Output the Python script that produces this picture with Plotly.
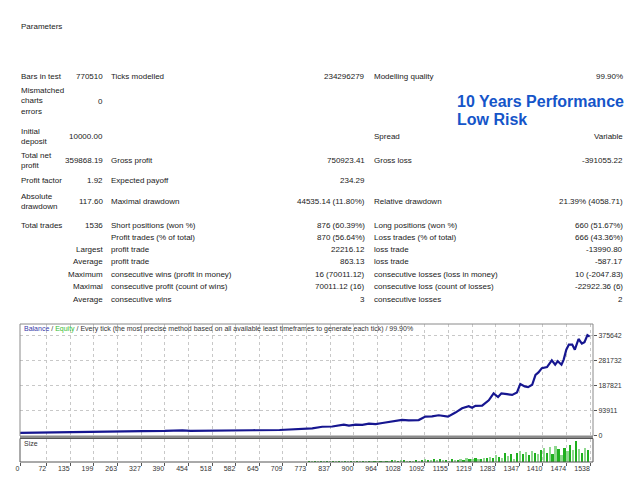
import plotly.graph_objects as go

FONT = "Liberation Sans, Arial, sans-serif"
TXT = "#1a1a1a"
# page puts the figure 8px in from the top-left corner, so the figure is a bit smaller than the window
W, H = 624, 464
OFF = 8

# ---- report table (label, value) rows ----
row_bars = ["Bars in test", "770510", "Ticks modelled", "234296279", "Modelling quality", "99.90%"]
row_deposit = ["Initial<br>deposit", "10000.00", "", "", "Spread", "Variable"]
row_net = ["Total net<br>profit", "359868.19", "Gross profit", "750923.41", "Gross loss", "-391055.22"]
row_pf = ["Profit factor", "1.92", "Expected payoff", "234.29", "", ""]
row_dd = ["Absolute<br>drawdown", "117.60", "Maximal drawdown", "44535.14 (11.80%)", "Relative drawdown", "21.39% (4058.71)"]
row_trades = ["Total trades", "1536", "Short positions (won %)", "876 (60.39%)", "Long positions (won %)", "660 (51.67%)"]
rows_sub = [
    ["", "Profit trades (% of total)", "870 (56.64%)", "Loss trades (% of total)", "666 (43.36%)"],
    ["Largest", "profit trade", "22216.12", "loss trade", "-13990.80"],
    ["Average", "profit trade", "863.13", "loss trade", "-587.17"],
    ["Maximum", "consecutive wins (profit in money)", "16 (70011.12)", "consecutive losses (loss in money)", "10 (-2047.83)"],
    ["Maximal", "consecutive profit (count of wins)", "70011.12 (16)", "consecutive loss (count of losses)", "-22922.36 (6)"],
    ["Average", "consecutive wins", "3", "consecutive losses", "2"],
]

# ---- balance curve (trade #, balance) ----
trade_no = [0, 40, 70, 110, 150, 199, 230, 263, 300, 330, 390, 438, 460, 520, 600, 627, 700, 725,
            760, 788, 815, 842, 873, 887, 905, 923, 941, 959, 977, 1004, 1030, 1048, 1075, 1093,
            1111, 1129, 1142, 1154, 1174, 1192, 1210, 1219, 1228, 1246, 1264, 1277, 1289, 1298,
            1313, 1327, 1340, 1349, 1361, 1370, 1381, 1390, 1398, 1407, 1421, 1434, 1443, 1450,
            1460, 1466, 1473, 1480, 1489, 1496, 1506, 1515, 1522, 1530, 1536]
balance = [10000, 11000, 12500, 12000, 13500, 14500, 14000, 16000, 16500, 17000, 17500, 19500,
           17500, 17500, 18000, 20000, 21000, 23000, 24000, 27000, 33000, 34000, 41000, 37000,
           41000, 40000, 45000, 43000, 47000, 53000, 59000, 57000, 58000, 71000, 72000, 76000,
           73000, 71000, 86000, 102000, 110000, 104000, 111000, 112000, 132000, 158000, 144000,
           158000, 155000, 152000, 161000, 193000, 184000, 181000, 190000, 227000, 236000, 252000,
           256000, 281000, 265000, 278000, 265000, 284000, 321000, 340000, 340000, 321000, 361000,
           344000, 349000, 375642, 369868]

# ---- lot size bars ----
size_trade = list(range(780, 1533, 8))
size_lots = [0.08, 0.10, 0.10, 0.08, 0.10, 0.12, 0.10, 0.10, 0.12, 0.10, 0.13,
             0.15, 0.18, 0.15, 0.20, 0.16, 0.18, 0.20, 0.15, 0.18, 0.20, 0.16, 0.15, 0.18, 0.20,
             0.16, 0.15, 0.18, 0.22, 0.25, 0.20,
             0.30, 0.25, 0.20, 0.15, 0.20, 0.25, 0.15, 0.30, 0.35, 0.25, 0.30, 0.35, 0.30, 0.40,
             0.25, 0.30, 0.20, 0.35, 0.25, 0.30, 0.40, 0.30, 0.45, 0.35, 0.40, 0.50, 0.40, 0.35,
             0.50, 0.45, 0.60, 0.50, 0.80, 0.60, 0.50, 1.00, 0.70, 0.90, 0.40,
             1.00, 1.20, 0.90, 1.10, 0.80, 1.20, 1.00, 0.90, 1.30,
             1.50, 1.00, 1.60, 0.90, 1.70, 1.40, 0.80, 1.50, 1.20,
             1.80, 1.30, 2.20, 1.40, 1.00, 1.50, 1.30]

x_ticks = [0, 72, 135, 199, 263, 327, 390, 454, 518, 582, 645, 709, 773, 837, 900, 964,
           1028, 1092, 1155, 1219, 1283, 1347, 1410, 1474, 1538]
y_ticks = [0, 93911, 187821, 281732, 375642]


def px(x, y):
    # screen pixel -> paper fraction
    return (x - OFF) / W, 1 - (y - OFF) / H


fig = go.Figure()
fig.add_trace(go.Scatter(x=trade_no, y=balance, mode="lines",
                         line=dict(color="#161690", width=2.2), xaxis="x", yaxis="y"))
bar_colors = ["#1fb01f" if i % 2 == 0 else "#8fd88f" for i in range(len(size_lots))]
fig.add_trace(go.Bar(x=size_trade, y=size_lots, width=6, marker=dict(color=bar_colors, line_width=0),
                     xaxis="x2", yaxis="y2"))

ann = []


def text(s, x, y, anchor="left", size=8, color=TXT, bold=False):
    xx, yy = px(x, y)
    ann.append(dict(text=f"<b>{s}</b>" if bold else s, x=xx, y=yy, xref="paper", yref="paper",
                    xanchor=anchor, yanchor="middle", showarrow=False,
                    font=dict(family=FONT, size=size, color=color), align="left"))


def six(row, y):
    text(row[0], 19, y)
    text(row[1], 104.5, y, "right")
    text(row[2], 109, y)
    text(row[3], 367.5, y, "right")
    text(row[4], 372, y)
    text(row[5], 625, y, "right")


text("Parameters", 19, 27)
six(row_bars, 76)
text("Mismatched<br>charts<br>errors", 19, 101)
text("0", 104.5, 101, "right")
six(row_deposit, 137)
six(row_net, 161)
six(row_pf, 181)
six(row_dd, 201)
six(row_trades, 225)
for r, y in zip(rows_sub, [237, 249.5, 261.5, 274, 286.5, 299]):
    text(r[0], 104.5, y, "right")
    text(r[1], 109, y)
    text(r[2], 367.5, y, "right")
    text(r[3], 372, y)
    text(r[4], 625, y, "right")

text("10 Years Performance", 455, 101, size=16, color="#1555c9", bold=True)
text("Low Risk", 455, 119, size=16, color="#1555c9", bold=True)

text("<span style='color:#3838a8'>Balance</span> / <span style='color:#33bb33'>Equity</span>"
     " / Every tick (the most precise method based on all available least timeframes to generate each tick) / 99.90%",
     22, 329, size=7, color="#333333")
text("Size", 22, 443, size=7, color="#333333")

shapes = []
x0, y0 = px(20, 324)
x1, y1 = px(593, 436)
shapes.append(dict(type="rect", xref="paper", yref="paper", x0=x0, y0=y1, x1=x1, y1=y0,
                   line=dict(color="#8a8a8a", width=1)))
sx0, sy0 = px(20, 436)
sx1, sy1 = px(593, 438.5)
shapes.append(dict(type="rect", xref="paper", yref="paper", x0=sx0, y0=sy1, x1=sx1, y1=sy0,
                   line=dict(width=0), fillcolor="#8c8c8c"))
bx0, by0 = px(20, 438.5)
bx1, by1 = px(593, 462)
shapes.append(dict(type="rect", xref="paper", yref="paper", x0=bx0, y0=by1, x1=bx1, y1=by0,
                   line=dict(color="#555555", width=1)))

grid = dict(showgrid=True, gridcolor="#c8c8c8", griddash="3px,3px", gridwidth=1, zeroline=False,
            automargin=False)
xdom = [px(20, 0)[0], px(593, 0)[0]]
fig.update_layout(
    width=W, height=H, margin=dict(l=0, r=0, t=0, b=0, pad=0), autosize=False,
    paper_bgcolor="white", plot_bgcolor="white", showlegend=False, bargap=0,
    annotations=ann, shapes=shapes,
    xaxis=dict(domain=xdom, range=[0, 1545], tickvals=x_ticks, showticklabels=False,
               anchor="y", **grid),
    yaxis=dict(domain=[px(0, 436)[1], px(0, 324)[1]], range=[-1500, 417000], side="right",
               tickvals=y_ticks, ticktext=[str(v) for v in y_ticks], ticks="outside",
               ticklen=3, tickcolor="#555", anchor="x",
               tickfont=dict(family=FONT, size=7, color="#333"), **grid),
    xaxis2=dict(domain=xdom, range=[0, 1545], tickvals=x_ticks, matches="x", anchor="y2",
                ticks="outside", ticklen=3, tickcolor="#555", ticklabelposition="outside left",
                tickangle=0, tickfont=dict(family=FONT, size=7, color="#333"), **grid),
    yaxis2=dict(domain=[px(0, 462)[1], px(0, 438.5)[1]], range=[0, 2.4], showgrid=False,
                showticklabels=False, zeroline=False, anchor="x2", automargin=False),
)

fig.write_html("out.html")
